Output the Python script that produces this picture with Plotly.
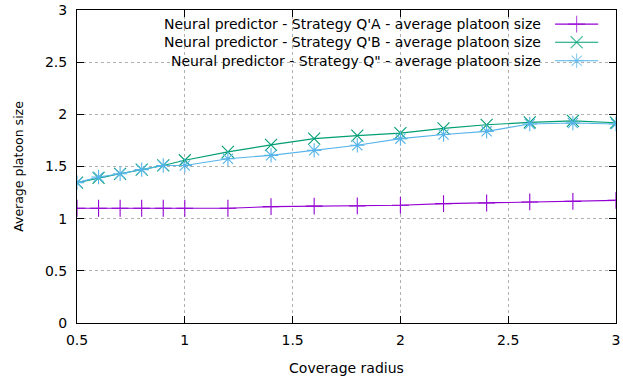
import plotly.graph_objects as go

# Coverage radius values
radius = [0.5, 0.6, 0.7, 0.8, 0.9, 1.0, 1.2, 1.4, 1.6, 1.8, 2.0, 2.2, 2.4, 2.6, 2.8, 3.0]

# Average platoon size per strategy
size_qa = [1.10, 1.10, 1.10, 1.10, 1.10, 1.10, 1.10, 1.115, 1.12, 1.122, 1.128, 1.144, 1.15, 1.16, 1.166, 1.175]
size_qb = [1.345, 1.39, 1.43, 1.47, 1.51, 1.56, 1.64, 1.707, 1.767, 1.796, 1.82, 1.865, 1.90, 1.923, 1.937, 1.92]
size_qq = [1.345, 1.40, 1.43, 1.47, 1.51, 1.51, 1.575, 1.607, 1.655, 1.703, 1.767, 1.806, 1.837, 1.908, 1.917, 1.908]

series_names = [
    "Neural predictor - Strategy Q'A - average platoon size",
    "Neural predictor - Strategy Q'B - average platoon size",
    "Neural predictor - Strategy Q\" - average platoon size",
]
series_colors = ["#9400d3", "#009e73", "#56b4e9"]
series_symbols = ["cross-thin-open", "x-thin-open", "asterisk-open"]
series_values = [size_qa, size_qb, size_qq]

x_ticks = [0.5, 1, 1.5, 2, 2.5, 3]
x_tick_text = ["0.5", "1", "1.5", "2", "2.5", "3"]
y_ticks = [0, 0.5, 1, 1.5, 2, 2.5, 3]
y_tick_text = ["0", "0.5", "1", "1.5", "2", "2.5", "3"]

FONT = "DejaVu Sans"
FS = 14

fig = go.Figure()

for name, color, symbol, vals in zip(series_names, series_colors, series_symbols, series_values):
    fig.add_trace(go.Scatter(
        x=radius, y=vals, mode="lines+markers", name=name,
        line=dict(color=color, width=1.1),
        marker=dict(symbol=symbol, size=12, color=color, line=dict(color=color, width=1.1)),
        showlegend=False,
    ))

# Key: right-aligned labels with line+marker samples on the right
key_rows = [0.955, 0.897, 0.838]
sample_x = [0.887, 0.927, 0.967]
for name, color, symbol, ky in zip(series_names, series_colors, series_symbols, key_rows):
    fig.add_trace(go.Scatter(
        x=sample_x, y=[ky, ky, ky], xaxis="x2", yaxis="y2",
        mode="lines+markers",
        line=dict(color=color, width=1.1),
        marker=dict(symbol=symbol, size=[0, 12, 0], color=color, line=dict(color=color, width=1.1)),
        showlegend=False, hoverinfo="skip",
    ))
    fig.add_annotation(
        x=0.865, y=ky, xref="x2", yref="y2", text=name, showarrow=False,
        xanchor="right", yanchor="middle", font=dict(family=FONT, size=FS, color="#000000"),
    )

axis_common = dict(
    showline=True, linecolor="#000000", linewidth=1, mirror="ticks",
    ticks="inside", ticklen=7, tickcolor="#000000", tickwidth=1,
    showgrid=True, gridcolor="#b0b0b0", griddash="dot", gridwidth=1,
    zeroline=False, automargin=False, tickfont=dict(family=FONT, size=FS, color="#000000"),
)

fig.update_layout(
    width=623, height=380,
    margin=dict(l=77, r=7, t=10, b=57),
    paper_bgcolor="#ffffff", plot_bgcolor="#ffffff",
    font=dict(family=FONT, size=FS, color="#000000"),
    xaxis=dict(range=[0.5, 3], tickvals=x_ticks, ticktext=x_tick_text, ticklabelstandoff=4,
               title=dict(text="Coverage radius", standoff=16, font=dict(family=FONT, size=FS)),
               **axis_common),
    yaxis=dict(range=[0, 3], tickvals=y_ticks, ticktext=y_tick_text, ticklabelstandoff=6,
               title=dict(text="Average platoon size", standoff=18, font=dict(family=FONT, size=12.5)),
               **axis_common),
    xaxis2=dict(overlaying="x", range=[0, 1], visible=False, fixedrange=True),
    yaxis2=dict(overlaying="y", range=[0, 1], visible=False, fixedrange=True),
)

fig.write_html("out.html")
